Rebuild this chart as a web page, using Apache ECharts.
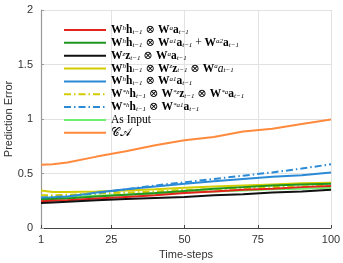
<!DOCTYPE html>
<html><head><meta charset="utf-8">
<script src="https://cdn.jsdelivr.net/npm/echarts@6/dist/echarts.min.js"></script>
<style>html,body{margin:0;padding:0;background:#fff}#c{width:343px;height:263px}</style>
</head><body><div id="c"></div>
<script>
const xSteps = [1,5,10,20,30,40,50,60,70,80,90,100];
const xTicks = [1,25,50,75,100];
const redVals    = [0.245,0.25,0.255,0.27,0.285,0.30,0.32,0.335,0.35,0.36,0.375,0.385];
const greenVals  = [0.26,0.265,0.27,0.29,0.305,0.32,0.34,0.36,0.375,0.39,0.40,0.405];
const blackVals  = [0.23,0.235,0.24,0.255,0.265,0.275,0.285,0.30,0.31,0.325,0.335,0.35];
const yellowVals = [0.345,0.33,0.33,0.335,0.345,0.355,0.37,0.38,0.39,0.40,0.41,0.415];
const blueVals   = [0.27,0.28,0.29,0.325,0.355,0.38,0.405,0.43,0.45,0.47,0.485,0.51];
const yellowDashVals = [0.30,0.30,0.305,0.315,0.325,0.335,0.35,0.355,0.365,0.375,0.38,0.39];
const blueDashVals   = [0.28,0.285,0.29,0.32,0.355,0.39,0.42,0.45,0.48,0.51,0.545,0.585];
const asInputVals    = [0.28,0.28,0.285,0.295,0.305,0.315,0.325,0.335,0.345,0.355,0.36,0.37];
const caVals         = [0.58,0.585,0.60,0.655,0.705,0.76,0.805,0.835,0.885,0.91,0.955,0.995];

const names = ['s1','s2','s3','s4','s5','s6','s7','s8','s9'];
const labels = {
  s1: '{b|W}{sup|h}{b|h}{sub|t−1}{n| ⊗ }{b|W}{sup|a}{b|a}{sub|t−1}',
  s2: '{b|W}{sup|h}{b|h}{sub|t−1}{n| ⊗ }{b|W}{sup|a1}{b|a}{sub|t−1}{n| + }{b|W}{sup|a2}{b|a}{sub|t−1}',
  s3: '{b|W}{sup|z}{b|z}{sub|t−1}{n| ⊗ }{b|W}{sup|a}{b|a}{sub|t−1}',
  s4: '{b|W}{sup|h}{b|h}{sub|t−1}{n| ⊗ }{b|W}{sup|z}{b|z}{sub|t−1}{n| ⊗ }{b|W}{sup|a}{i|a}{sub|t−1}',
  s5: '{b|W}{sup|h}{b|h}{sub|t−1}{n| ⊗ }{b|W}{sup|a1}{b|a}{sub|t−1}',
  s6: '{b|W}{sup|*h}{b|h}{sub|t−1}{n| ⊗ }{b|W}{sup|*z}{b|z}{sub|t−1}{n| ⊗ }{b|W}{sup|*a}{b|a}{sub|t−1}',
  s7: '{b|W}{sup|*h}{b|h}{sub|t−1}{n| ⊗ }{b|W}{sup|*a1}{b|a}{sub|t−1}',
  s8: '{n|As Input}',
  s9: '{n|𝒞𝒜}'
};
const colors = ['#e3241c','#1f961f','#111111','#d2cc00','#2b8ad6','#d2cc00','#2b8ad6','#6ef06e','#ff8a3d'];
const dataSets = [redVals,greenVals,blackVals,yellowVals,blueVals,yellowDashVals,blueDashVals,asInputVals,caVals];
const dashes = ['solid','solid','solid','solid','solid',[7,3,1.5,3],[7,3,1.5,3],'solid','solid'];
const zs = [5,4,6,3,3,3,3,2,2];

const serif = '"Liberation Serif","DejaVu Serif",serif';
const series = names.map((n,i)=>({
  name: n, type:'line', symbol:'none', showSymbol:false, z: zs[i],
  data: xSteps.map((x,k)=>[x, dataSets[i][k]]),
  lineStyle:{color:colors[i], width:2, type:dashes[i]},
  itemStyle:{color:colors[i]}
}));

const chart = echarts.init(document.getElementById('c'));
chart.setOption({
  animation:false,
  grid:{left:41,right:12,top:10,bottom:35,containLabel:false,outerBoundsMode:'none'},
  legend:{
    show:true,
    orient:'vertical', left:63, top:24, padding:0, itemWidth:42, itemHeight:8, itemGap:0.85,
    itemStyle:{opacity:0},
    data:names,
    formatter: function(n){ return labels[n]; },
    textStyle:{
      color:'#000', fontFamily:serif, fontSize:11,
      rich:{
        b:{fontFamily:serif,fontWeight:'bold',fontSize:11.5,color:'#000',lineHeight:11},
        i:{fontFamily:serif,fontStyle:'italic',fontSize:11.5,color:'#000',lineHeight:11},
        n:{fontFamily:serif,fontSize:11.5,color:'#000',lineHeight:11},
        sup:{fontFamily:serif,fontStyle:'italic',fontSize:7,color:'#000',verticalAlign:'top',lineHeight:7},
        sub:{fontFamily:serif,fontStyle:'italic',fontSize:7,color:'#000',verticalAlign:'bottom',lineHeight:7}
      }
    }
  },
  xAxis:{
    type:'value', min:1, max:100,
    name:'Time-steps', nameLocation:'middle', nameGap:21,
    nameTextStyle:{fontFamily:'"Liberation Sans",Arial,sans-serif',fontSize:11,color:'#333'},
    axisLine:{lineStyle:{color:'#444',width:1}},
    axisTick:{inside:true,length:3,lineStyle:{color:'#444'},customValues:xTicks},
    axisLabel:{fontFamily:'"Liberation Sans",Arial,sans-serif',fontSize:11,color:'#333',margin:6,customValues:xTicks},
    splitLine:{show:true,lineStyle:{color:'#e2e2e2',width:1}}
  },
  yAxis:{
    type:'value', min:0, max:2, interval:0.5,
    name:'Prediction Error', nameLocation:'middle', nameGap:27, nameMoveOverlap:false,
    nameTextStyle:{fontFamily:'"Liberation Sans",Arial,sans-serif',fontSize:11,color:'#333'},
    axisLine:{show:true,lineStyle:{color:'#999',width:1.2}},
    axisTick:{show:true,inside:true,length:3,lineStyle:{color:'#999'}},
    axisLabel:{fontFamily:'"Liberation Sans",Arial,sans-serif',fontSize:11,color:'#333',margin:8},
    splitLine:{show:true,lineStyle:{color:'#e2e2e2',width:1}}
  },
  series: series
});
</script></body></html>
